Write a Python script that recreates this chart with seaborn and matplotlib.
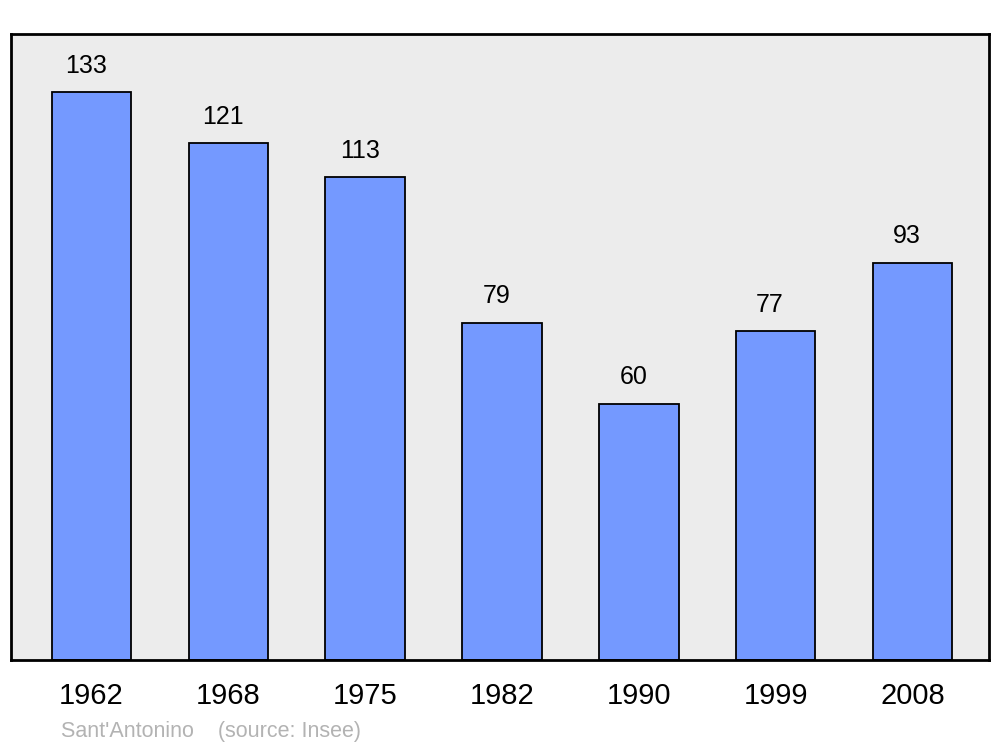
import pandas as pd
import matplotlib.pyplot as plt
import seaborn as sns

# Data
years = ["1962", "1968", "1975", "1982", "1990", "1999", "2008"]
population = [133, 121, 113, 79, 60, 77, 93]
source_text = "Sant'Antonino    (source: Insee)"

data = pd.DataFrame({"year": years, "population": population})

sns.set_style("white")
plt.rcParams['font.family'] = ['Liberation Sans', 'DejaVu Sans']

fig = plt.figure(figsize=(10, 7.47), dpi=100)
ax = fig.add_axes([0.011, 0.1165, 0.978, 0.838])
ax.set_facecolor("#ececec")

sns.barplot(x="year", y="population", data=data, color="#7499ff",
            saturation=1, edgecolor="black", linewidth=1.3, width=0.58, ax=ax)

# value labels above each bar
for i, v in enumerate(population):
    ax.annotate(str(v), (i, v), xytext=(-4, 14), textcoords="offset points",
                ha="center", va="baseline", fontsize=18, color="black")

ax.set_xlim(-0.588, 6.559)
ax.set_ylim(0, 146.6)
ax.set_yticks([])
ax.set_xlabel("")
ax.set_ylabel("")
ax.tick_params(axis="x", length=0, pad=16, labelsize=21, labelcolor="black")
for s in ax.spines.values():
    s.set_color("black")
    s.set_linewidth(2)

fig.text(0.061, 0.0134, source_text, color="#b3b3b3", fontsize=15.5, va="baseline")

plt.savefig("out.png", dpi=100)
